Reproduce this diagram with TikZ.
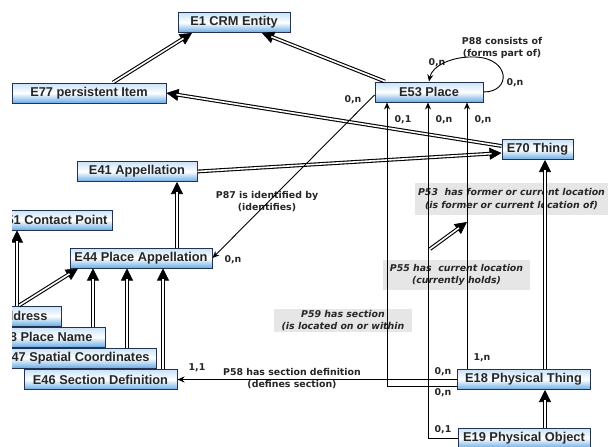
\documentclass[tikz,border=0pt]{standalone}
\usepackage{fontspec}
\setmainfont{Liberation Sans}
\newfontfamily\labfont{DejaVu Sans}
\usetikzlibrary{arrows.meta}
\definecolor{boxtop}{RGB}{200,226,248}
\definecolor{boxbot}{RGB}{105,172,230}
\definecolor{boxline}{RGB}{35,50,80}
\definecolor{labgray}{RGB}{230,230,230}
\begin{document}
\begin{tikzpicture}[x=1pt,y=-1pt,
  ent/.style={draw=boxline, line width=1pt, top color=boxtop, bottom color=boxbot, middle color=white,
    minimum height=20pt, inner ysep=0pt, font=\fontsize{12.8}{14}\selectfont\bfseries, text=black!85},
  isa/.style={line width=3.8pt, shorten >=10pt,
    preaction={draw, line width=0.6pt, shorten >=0pt, -{Triangle[length=12pt,width=12pt]}},
    postaction={draw=white, line width=1.6pt, shorten >=10pt}},
  rel/.style={line width=0.9pt, -{Stealth[length=7pt,width=6pt]}},
  card/.style={font=\labfont\fontsize{9.4}{11}\selectfont\bfseries, inner sep=0pt, text=black!85},
  prop/.style={font=\labfont\fontsize{9.4}{12.8}\selectfont\bfseries, inner sep=0pt, align=center, text=black!85},
  gprop/.style={font=\labfont\fontsize{9.4}{12.8}\selectfont\bfseries\itshape, inner sep=0pt, align=center,
    fill=labgray, text=black!85}]
\useasboundingbox (0,0) rectangle (613,447);
\fill[white] (0,0) rectangle (613,447);
\clip (12,0) rectangle (613,447);

% entity boxes
\node[ent, minimum width=112pt] (e1) at (234,22.5) {E1 CRM Entity};
\node[ent, minimum width=154pt] (e77) at (89,93) {E77 persistent Item};
\node[ent, minimum width=108pt] (e53) at (429,92) {E53 Place};
\node[ent, minimum width=71pt] (e70) at (537.5,149.5) {E70 Thing};
\node[ent, minimum width=120pt] (e41) at (137,171.5) {E41 Appellation};
\node[ent, anchor=east, inner xsep=5pt] (e51) at (113,220) {E51 Contact Point};
\node[ent, minimum width=142pt] (e44) at (141,258) {E44 Place Appellation};
\node[ent, anchor=east, inner xsep=14pt] (e45) at (62,316) {E45 Address};
\node[ent, anchor=east, inner xsep=13pt] (e48) at (106,337) {E48 Place Name};
\node[ent, anchor=east, inner xsep=7pt] (e47) at (157,358) {E47 Spatial Coordinates};
\node[ent, minimum width=153pt] (e46) at (100.5,379.5) {E46 Section Definition};
\node[ent, minimum width=133pt] (e18) at (523.5,379.5) {E18 Physical Thing};
\node[ent, minimum width=132pt] (e19) at (524,438) {E19 Physical Object};

% property labels
\node[gprop, minimum width=193pt, minimum height=32pt] (p53) at (511.5,199) {P53\ \ has former or current location\\(is former or current location of)};
\node[gprop, minimum width=147pt, minimum height=30pt] (p55) at (456.5,275) {P55 has\ \ current location\\(currently holds)};
\node[gprop, minimum width=138pt, minimum height=23pt] (p59) at (343,320.5) {P59 has section\\(is located on or within};
\node[prop] (p87) at (267,201.5) {P87 is identified by\\(identifies)};
\node[prop] (p88) at (502,48) {P88 consists of\\(forms part of)};
\node[prop] (p58) at (292,378.5) {P58 has section definition\\(defines section)};

% cardinalities
\node[card] (c1) at (353,100) {0,n};
\node[card] (c2) at (233,260) {0,n};
\node[card] (c3) at (437,63) {0,n};
\node[card] (c4) at (515,83) {0,n};
\node[card] (c5) at (403,120) {0,1};
\node[card] (c6) at (444,120) {0,n};
\node[card] (c7) at (483,120) {0,n};
\node[card] (c8) at (197,368) {1,1};
\node[card] (c9) at (443,372) {0,n};
\node[card] (c10) at (482,358) {1,n};
\node[card] (c11) at (443,393) {0,n};
\node[card] (c12) at (443,430) {0,1};

% is-a links
\draw[isa] (e77.north -| 113,0) -- (e1.south -| 192,0);
\draw[isa] (e53.north -| 385,0) -- (e1.south -| 262,0);
\draw[isa] (e70.west |- 0,146) -- (e77.east);
\draw[isa] (e41.east) -- (e70.west |- 0,153);
\draw[isa] (e44.north -| 177,0) -- (e41.south -| 177,0);
\draw[isa] (e45.north -| 17,0) -- (e51.south -| 17,0);
\draw[isa] (e45.north -| 19,0) -- (e44.south -| 78,0);
\draw[isa] (e48.north -| 93,0) -- (e44.south -| 93,0);
\draw[isa] (e47.north -| 127,0) -- (e44.south -| 127,0);
\draw[isa] (e46.north -| 163,0) -- (e44.south -| 163,0);
\draw[isa] (e18.north -| 545,0) -- (e70.south -| 545,0);
\draw[isa] (e19.north -| 545,0) -- (e18.south -| 545,0);

% properties
\draw[rel] (e53.west |- 0,95) -- (e44.east);
\draw[rel] (e53.east) .. controls (512,92) and (510,58) .. (475,57) .. controls (452,56) and (432,66) .. (e53.north);
\draw[rel] (e18.north -| 467,0) -- (e53.south -| 467,0);
\draw[rel] (e19.west) -| (e53.south -| 428,0);
\draw[rel] (e18.west |- 0,386) -| (e53.south -| 387,0);
\draw[rel] (e18.west) -- (e46.east);

% P55 is sub-property of P53
\coordinate (s55) at (430,249);
\coordinate (t53) at (467,222);
\draw[isa] (s55) -- (t53);
\end{tikzpicture}
\end{document}
